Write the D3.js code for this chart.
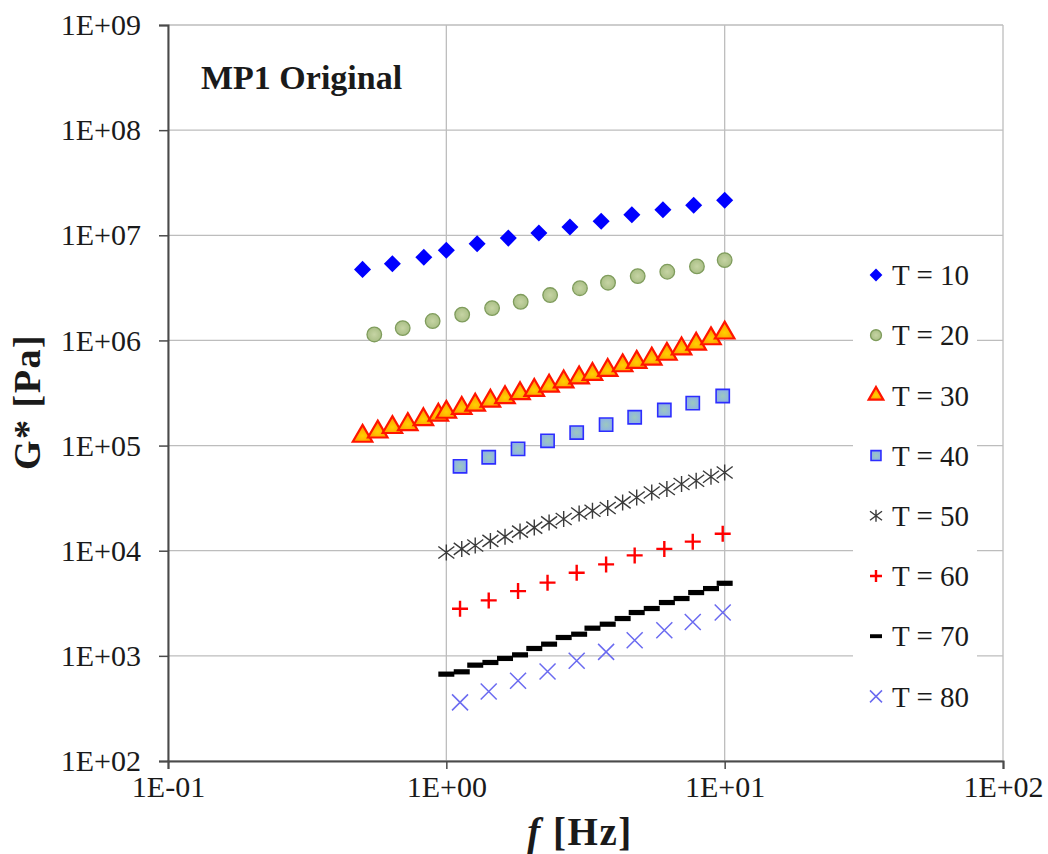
<!DOCTYPE html>
<html>
<head>
<meta charset="utf-8">
<script src="https://cdn.jsdelivr.net/npm/d3@7"></script>
<style>
  body { margin: 0; background: #fff; }
  svg text { font-family: "Liberation Serif", "DejaVu Serif", serif !important; fill: #1a1a1a; }
</style>
</head>
<body>
<div id="chart"></div>
<script>
// Frequency sweeps [Hz]
const freqT10 = [0.5, 0.64, 0.83, 1.0, 1.29, 1.67, 2.15, 2.78, 3.6, 4.64, 6.0, 7.74, 10];
const freqT20 = [0.551, 0.697, 0.893, 1.14, 1.46, 1.85, 2.36, 3.02, 3.81, 4.87, 6.22, 7.95, 10];
const freqT30 = [0.5, 0.567, 0.64, 0.727, 0.827, 0.936, 1.0, 1.136, 1.27, 1.44, 1.625, 1.84, 2.07,
                 2.34, 2.64, 3.0, 3.35, 3.8, 4.3, 4.83, 5.47, 6.2, 7.0, 7.9, 8.93, 10];
const freqFine = [1.0, 1.136, 1.27, 1.44, 1.625, 1.84, 2.07, 2.34, 2.64, 3.0, 3.35, 3.8, 4.3,
                  4.83, 5.47, 6.2, 7.0, 7.9, 8.93, 10];
const freqCoarse = [1.12, 1.42, 1.81, 2.31, 2.94, 3.75, 4.75, 6.07, 7.68, 9.84];

// G* [Pa] per temperature
const gT10 = [4.74e6, 5.37e6, 6.17e6, 7.2e6, 8.3e6, 9.4e6, 1.05e7, 1.2e7, 1.36e7, 1.57e7, 1.75e7, 1.93e7, 2.15e7];
const gT20 = [1.14e6, 1.31e6, 1.53e6, 1.76e6, 2.03e6, 2.33e6, 2.7e6, 3.14e6, 3.54e6, 4.09e6, 4.5e6, 5.06e6, 5.81e6];
const gT30 = [1.23e5, 1.35e5, 1.49e5, 1.59e5, 1.77e5, 1.95e5, 2.08e5, 2.26e5, 2.43e5, 2.65e5, 2.86e5, 3.13e5, 3.36e5,
              3.69e5, 4.05e5, 4.42e5, 4.76e5, 5.2e5, 5.76e5, 6.21e5, 6.67e5, 7.41e5, 8.32e5, 9.23e5, 1.04e6, 1.18e6];
const gT40 = [6.35e4, 7.74e4, 9.3e4, 1.11e5, 1.33e5, 1.58e5, 1.86e5, 2.18e5, 2.53e5, 2.96e5];
const gT50 = [9.63e3, 1.04e4, 1.12e4, 1.24e4, 1.36e4, 1.52e4, 1.66e4, 1.86e4, 2.0e4, 2.26e4,
              2.4e4, 2.55e4, 2.88e4, 3.21e4, 3.58e4, 3.86e4, 4.31e4, 4.63e4, 5.05e4, 5.55e4];
const gT60 = [2.81e3, 3.37e3, 4.13e3, 4.97e3, 6.18e3, 7.41e3, 9.02e3, 1.04e4, 1.22e4, 1.45e4];
const gT70 = [670, 705, 816, 865, 945, 1022, 1175, 1292, 1495, 1607,
              1833, 2000, 2265, 2583, 2820, 3215, 3510, 4000, 4365, 4900];
const gT80 = [361, 459, 579, 711, 897, 1091, 1410, 1754, 2103, 2583];

const seriesNames = ['T = 10', 'T = 20', 'T = 30', 'T = 40', 'T = 50', 'T = 60', 'T = 70', 'T = 80'];

// Axis ticks (decades)
const xTicks = [0.1, 1, 10, 100];
const yTicks = [1e2, 1e3, 1e4, 1e5, 1e6, 1e7, 1e8, 1e9];

const chartTitle = 'MP1 Original';

class LogScatterPlot {

  constructor(_config, _series) {
    this.config = {
      parentElement: _config.parentElement,
      containerWidth: 1048,
      containerHeight: 854,
      margin: {top: 25, right: 45, bottom: 93, left: 168}
    }
    this.series = _series;
    this.initVis();
  }

  initVis() {
    let vis = this;

    vis.width = vis.config.containerWidth - vis.config.margin.left - vis.config.margin.right;
    vis.height = vis.config.containerHeight - vis.config.margin.top - vis.config.margin.bottom;

    vis.xScale = d3.scaleLog()
      .domain([0.1, 100])
      .range([0, vis.width]);

    vis.yScale = d3.scaleLog()
      .domain([1e2, 1e9])
      .range([vis.height, 0]);

    // Excel style "1E+05" labels
    const expFormat = d => {
      const e = Math.round(Math.log10(d));
      return '1E' + (e < 0 ? '-' : '+') + String(Math.abs(e)).padStart(2, '0');
    };

    vis.xAxis = d3.axisBottom(vis.xScale)
      .tickValues(xTicks)
      .tickSize(8)
      .tickPadding(7)
      .tickFormat(expFormat);

    vis.yAxis = d3.axisLeft(vis.yScale)
      .tickValues(yTicks)
      .tickSize(9)
      .tickPadding(18)
      .tickFormat(expFormat);

    vis.svg = d3.select(vis.config.parentElement).append('svg')
      .attr('width', vis.config.containerWidth)
      .attr('height', vis.config.containerHeight);

    const defs = vis.svg.append('defs');
    const triGrad = defs.append('radialGradient').attr('id', 'triFill').attr('cy', '65%');
    triGrad.append('stop').attr('offset', '0%').attr('stop-color', '#ffd200');
    triGrad.append('stop').attr('offset', '100%').attr('stop-color', '#ff9a00');
    const sqGrad = defs.append('radialGradient').attr('id', 'sqFill');
    sqGrad.append('stop').attr('offset', '0%').attr('stop-color', '#9cc9bf');
    sqGrad.append('stop').attr('offset', '100%').attr('stop-color', '#8eb2e4');
    const cGrad = defs.append('radialGradient').attr('id', 'cFill');
    cGrad.append('stop').attr('offset', '0%').attr('stop-color', '#c6d4a4');
    cGrad.append('stop').attr('offset', '100%').attr('stop-color', '#aabf86');

    vis.chartArea = vis.svg.append('g')
      .attr('transform', `translate(${vis.config.margin.left},${vis.config.margin.top})`);

    // Grid lines
    vis.grid = vis.chartArea.append('g').attr('class', 'grid');
    vis.grid.selectAll('.hgrid')
      .data(yTicks)
      .join('line')
      .attr('class', 'hgrid')
      .attr('x1', 0).attr('x2', vis.width)
      .attr('y1', d => vis.yScale(d)).attr('y2', d => vis.yScale(d))
      .attr('stroke', '#bdbdbd')
      .attr('stroke-width', 1.3);
    vis.grid.selectAll('.vgrid')
      .data(xTicks)
      .join('line')
      .attr('class', 'vgrid')
      .attr('x1', d => vis.xScale(d)).attr('x2', d => vis.xScale(d))
      .attr('y1', 0).attr('y2', vis.height)
      .attr('stroke', '#bdbdbd')
      .attr('stroke-width', 1.3);

    vis.xAxisG = vis.chartArea.append('g')
      .attr('class', 'axis x-axis')
      .attr('transform', `translate(0,${vis.height})`);

    vis.yAxisG = vis.chartArea.append('g')
      .attr('class', 'axis y-axis');

    vis.chart = vis.chartArea.append('g');
    vis.legend = vis.chartArea.append('g');

    // Titles
    vis.chartArea.append('text')
      .attr('x', 33)
      .attr('y', 64)
      .attr('font-size', 34)
      .attr('font-weight', 'bold')
      .text(chartTitle);

    vis.svg.append('text')
      .attr('transform', `translate(40,${vis.config.margin.top + vis.height / 2 + 9}) rotate(-90)`)
      .attr('text-anchor', 'middle')
      .attr('font-size', 38)
      .attr('font-weight', 'bold')
      .attr('letter-spacing', 1.5)
      .text('G* [Pa]');

    const xt = vis.svg.append('text')
      .attr('x', 580)
      .attr('y', 845)
      .attr('text-anchor', 'middle')
      .attr('font-size', 39)
      .attr('font-weight', 'bold')
      .attr('letter-spacing', 1.5);
    xt.append('tspan').attr('font-style', 'italic').text('f');
    xt.append('tspan').text(' [Hz]');

    vis.updateVis();
  }

  updateVis() {
    let vis = this;
    vis.points = [];
    vis.series.forEach((s, i) => {
      s.freq.forEach((f, j) => {
        vis.points.push({series: i, f: f, g: s.values[j]});
      });
    });
    vis.renderVis();
  }

  // marker drawing per series index
  drawMarker(sel, i, k) {
    const sym = (type, size) => d3.symbol().type(type).size(size * k * k)();
    const r = 8 * k;
    if (i === 0) {
      sel.append('path').attr('d', sym(d3.symbolSquare, 145)).attr('transform', 'rotate(45)')
        .attr('fill', '#0000ff');
    } else if (i === 1) {
      sel.append('circle').attr('r', 7.3 * k)
        .attr('fill', 'url(#cFill)').attr('stroke', '#7f9c5c').attr('stroke-width', 1.3);
    } else if (i === 2) {
      sel.append('path').attr('d', sym(d3.symbolTriangle, 165))
        .attr('fill', 'url(#triFill)').attr('stroke', '#ff1500').attr('stroke-width', 2.2)
        .attr('stroke-linejoin', 'miter');
    } else if (i === 3) {
      sel.append('path').attr('d', sym(d3.symbolSquare, 175))
        .attr('fill', 'url(#sqFill)').attr('stroke', '#2d2dff').attr('stroke-width', 1.6);
    } else if (i === 4) {
      sel.append('path')
        .attr('d', `M0,${-r}V${r}M${-r},${-0.75 * r}L${r},${0.75 * r}M${-r},${0.75 * r}L${r},${-0.75 * r}`)
        .attr('fill', 'none').attr('stroke', '#3a3a3a').attr('stroke-width', 1.4);
    } else if (i === 5) {
      sel.append('path')
        .attr('d', `M${-r},0H${r}M0,${-r}V${r}`)
        .attr('fill', 'none').attr('stroke', '#ff0000').attr('stroke-width', 2.4);
    } else if (i === 6) {
      sel.append('rect').attr('x', -8 * k).attr('y', -2.6 * k).attr('width', 16 * k).attr('height', 5.2 * k)
        .attr('fill', '#000');
    } else {
      sel.append('path')
        .attr('d', `M${-r},${-r}L${r},${r}M${-r},${r}L${r},${-r}`)
        .attr('fill', 'none').attr('stroke', '#6a6af0').attr('stroke-width', 1.5);
    }
  }

  renderVis() {
    let vis = this;

    vis.xAxisG.call(vis.xAxis)
      .call(g => g.select('.domain').attr('stroke', '#4a4a4a').attr('stroke-width', 2))
      .call(g => g.selectAll('.tick line').attr('stroke', '#4a4a4a').attr('stroke-width', 1.5))
      .call(g => g.selectAll('.tick text').attr('font-size', 30).attr('fill', '#1a1a1a'));

    vis.yAxisG.call(vis.yAxis)
      .call(g => g.select('.domain').attr('stroke', '#4a4a4a').attr('stroke-width', 2))
      .call(g => g.selectAll('.tick line').attr('stroke', '#4a4a4a').attr('stroke-width', 1.5))
      .call(g => g.selectAll('.tick text').attr('font-size', 30).attr('fill', '#1a1a1a'));

    vis.chart.selectAll('.point')
      .data(vis.points)
      .join('g')
      .attr('class', 'point')
      .attr('transform', d => `translate(${vis.xScale(d.f)},${vis.yScale(d.g)})`)
      .each(function(d) { vis.drawMarker(d3.select(this), d.series, 1); });

    // Legend box sits over the grid
    const lx = 685, ly = 224, step = 60.2;
    vis.legend.append('rect')
      .attr('x', lx).attr('y', ly).attr('width', 124).attr('height', 474)
      .attr('fill', '#fff');

    const items = vis.legend.selectAll('.legend-item')
      .data(vis.series)
      .join('g')
      .attr('class', 'legend-item')
      .attr('transform', (d, i) => `translate(${lx + 23},${ly + 26 + i * step})`);

    items.each(function(d, i) { vis.drawMarker(d3.select(this), i, 0.75); });

    items.append('text')
      .attr('x', 16)
      .attr('dy', '0.35em')
      .attr('font-size', 29)
      .text(d => d.name);
  }
}

const series = [
  {name: seriesNames[0], freq: freqT10, values: gT10},
  {name: seriesNames[1], freq: freqT20, values: gT20},
  {name: seriesNames[2], freq: freqT30, values: gT30},
  {name: seriesNames[3], freq: freqCoarse, values: gT40},
  {name: seriesNames[4], freq: freqFine, values: gT50},
  {name: seriesNames[5], freq: freqCoarse, values: gT60},
  {name: seriesNames[6], freq: freqFine, values: gT70},
  {name: seriesNames[7], freq: freqCoarse, values: gT80}
];

new LogScatterPlot({parentElement: '#chart'}, series);
</script>
</body>
</html>
